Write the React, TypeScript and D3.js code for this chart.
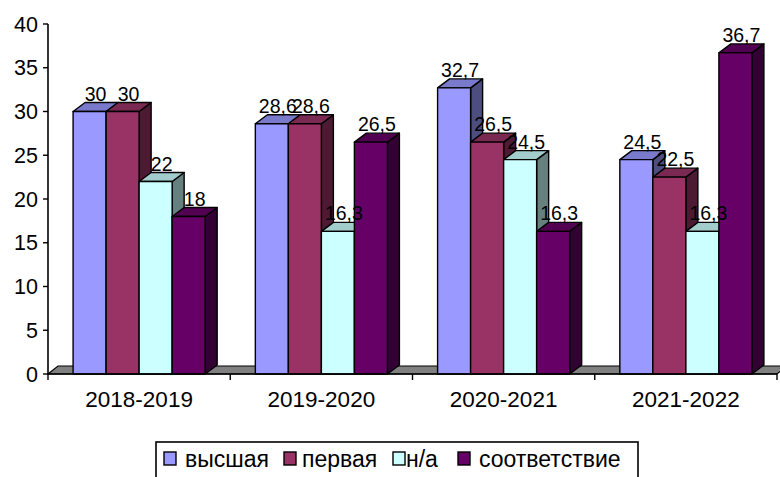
import React from "react";
import * as d3 from "d3";

const categories = ["2018-2019", "2019-2020", "2020-2021", "2021-2022"];
const seriesNames = ["высшая", "первая", "н/а", "соответствие"];
const vysshaya = [30, 28.6, 32.7, 24.5];
const pervaya = [30, 28.6, 26.5, 22.5];
const na = [22, 16.3, 24.5, 16.3];
const sootvetstvie = [18, 26.5, 16.3, 36.7];
const yTicks = [0, 5, 10, 15, 20, 25, 30, 35, 40];

// front / top / side colours for each series
const palette = [
  { front: "#9999ff", top: "#7a7acc", side: "#4d4d80" },
  { front: "#993366", top: "#7a2952", side: "#4d1a33" },
  { front: "#ccffff", top: "#a3cccc", side: "#668080" },
  { front: "#660066", top: "#520052", side: "#330033" },
];

const W = 780;
const H = 477;
const left = 48;
const right = 777;
const top = 24;
const base = 374;
const depth = { dx: 12, dy: -9 };
const floorDepth = { dx: 10, dy: -8 };
const font = "'Liberation Sans', Arial, sans-serif";

const fmt = (v: number) => String(v).replace(".", ",");

export default function App() {
  const series = [vysshaya, pervaya, na, sootvetstvie];

  const x = d3.scaleBand<string>().domain(categories).range([left, right]);
  const xs = d3
    .scaleBand<number>()
    .domain(d3.range(series.length))
    .range([0, x.bandwidth()])
    .paddingOuter(0.76);
  const y = d3.scaleLinear().domain([0, 40]).range([base, top]);

  const bars: JSX.Element[] = [];
  const labels: JSX.Element[] = [];

  categories.forEach((c, ci) => {
    series.forEach((s, si) => {
      const v = s[ci];
      const x0 = (x(c) as number) + (xs(si) as number);
      const x1 = x0 + xs.bandwidth();
      const y0 = y(v);
      const col = palette[si];
      const { dx, dy } = depth;
      const pts = (p: number[][]) => p.map((q) => q.join(",")).join(" ");
      bars.push(
        <g key={`${ci}-${si}`} stroke="#000" strokeWidth={1.4} strokeLinejoin="round">
          <polygon
            points={pts([[x1, base], [x1 + dx, base + dy], [x1 + dx, y0 + dy], [x1, y0]])}
            fill={col.side}
          />
          <polygon
            points={pts([[x0, y0], [x0 + dx, y0 + dy], [x1 + dx, y0 + dy], [x1, y0]])}
            fill={col.top}
          />
          <rect x={x0} y={y0} width={x1 - x0} height={base - y0} fill={col.front} />
        </g>
      );
      labels.push(
        <text
          key={`l-${ci}-${si}`}
          x={(x0 + x1) / 2 + dx / 2}
          y={y0 + dy - 2}
          textAnchor="middle"
          fontSize={19.5}
          fontFamily={font}
          fill="#000"
        >
          {fmt(v)}
        </text>
      );
    });
  });

  const legendItems = [
    { mx: 164, tx: 185 },
    { mx: 284, tx: 302 },
    { mx: 393, tx: 406 },
    { mx: 458, tx: 479 },
  ];

  return (
    <svg
      width={W}
      height={H}
      style={{ position: "absolute", left: 0, top: 0, background: "#fff" }}
    >
      {/* floor */}
      <polygon
        points={`${left},${base} ${right},${base} ${right + floorDepth.dx},${base + floorDepth.dy} ${left + floorDepth.dx},${base + floorDepth.dy}`}
        fill="#808080"
        stroke="#000"
        strokeWidth={1.2}
      />

      {bars}

      {/* y axis */}
      <line x1={left} x2={left} y1={top} y2={base} stroke="#000" strokeWidth={1.6} />
      {yTicks.map((t) => (
        <g key={t}>
          <line x1={left - 5} x2={left} y1={y(t)} y2={y(t)} stroke="#000" strokeWidth={1.4} />
          <text
            x={38}
            y={y(t)}
            dy="0.36em"
            textAnchor="end"
            fontSize={21.5}
            fontFamily={font}
          >
            {t}
          </text>
        </g>
      ))}

      {/* x axis */}
      <line x1={left} x2={right} y1={base} y2={base} stroke="#000" strokeWidth={1.6} />
      {categories.map((c) => (
        <g key={c}>
          <line
            x1={x(c) as number}
            x2={x(c) as number}
            y1={base}
            y2={base + 6}
            stroke="#000"
            strokeWidth={1.4}
          />
          <text
            x={(x(c) as number) + x.bandwidth() / 2}
            y={406.5}
            textAnchor="middle"
            fontSize={22.5}
            fontFamily={font}
          >
            {c}
          </text>
        </g>
      ))}
      <line x1={right} x2={right} y1={base} y2={base + 6} stroke="#000" strokeWidth={1.4} />

      {labels}

      {/* legend */}
      <rect x={156} y={442} width={482} height={60} fill="#fff" stroke="#000" strokeWidth={1.6} />
      {seriesNames.map((n, i) => (
        <g key={n}>
          <rect
            x={legendItems[i].mx}
            y={452}
            width={12}
            height={13}
            fill={palette[i].front}
            stroke="#000"
            strokeWidth={1.4}
          />
          <text x={legendItems[i].tx} y={466.5} fontSize={23} fontFamily={font}>
            {n}
          </text>
        </g>
      ))}
    </svg>
  );
}
